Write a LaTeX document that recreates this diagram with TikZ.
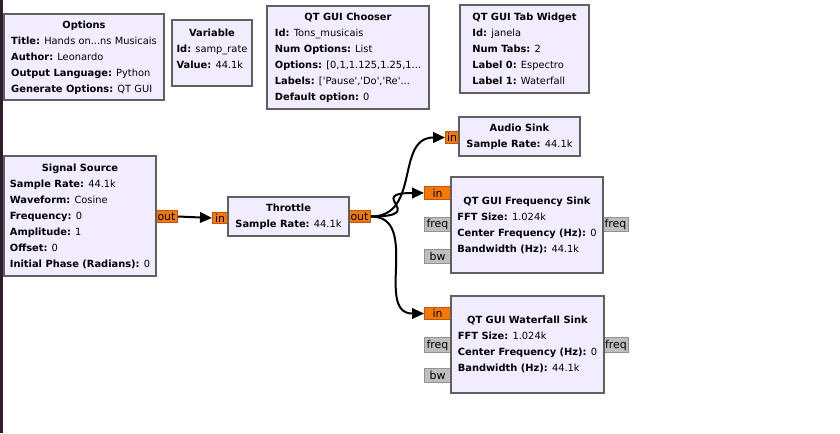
\documentclass[tikz,border=0pt]{standalone}
\usepackage{fontspec}
\setmainfont{DejaVu Sans}
\usetikzlibrary{arrows.meta}

\definecolor{blockfill}{RGB}{241,236,255}
\definecolor{blockline}{RGB}{96,96,96}
\definecolor{portfill}{RGB}{245,121,0}
\definecolor{portline}{RGB}{190,85,30}
\definecolor{gportfill}{RGB}{190,190,190}
\definecolor{gportline}{RGB}{145,145,145}
\definecolor{sidebar}{RGB}{45,30,45}

\tikzset{
  every picture/.style={line width=0.75pt},
  block/.style 2 args={draw=blockline, fill=blockfill, line width=1.5pt, anchor=north west,
    minimum width=#1*0.75pt, minimum height=#2*0.75pt, inner sep=0pt},
  port/.style 2 args={draw=portline, fill=portfill, line width=0.75pt, anchor=north west,
    minimum width=#1*0.75pt, minimum height=#2*0.75pt, inner sep=0pt,
    font=\fontsize{8.2}{10}\selectfont},
  gport/.style 2 args={draw=gportline, fill=gportfill, line width=0.75pt, anchor=north west,
    minimum width=#1*0.75pt, minimum height=#2*0.75pt, inner sep=0pt,
    font=\fontsize{8.2}{10}\selectfont},
  conn/.style={line width=1.5pt, -{Triangle[length=9pt,width=8pt]}},
}

\begin{document}
\begin{tikzpicture}[x=0.75pt,y=0.75pt,yscale=-1,xscale=1,
  every node/.style={font=\fontsize{7.4}{12}\selectfont}]
\useasboundingbox (0,0) rectangle (840,433);
\fill[white] (0,0) rectangle (840,433);
\fill[sidebar] (0,0) rectangle (3,433);

%Ports
\node [port={22}{12}] (src_out) at (155,210) {out};
\node [port={15}{11}] (thr_in) at (212,212) {in};
\node [port={22}{12}] (thr_out) at (348,210) {out};
\node [port={13}{12}] (aud_in) at (445,131) {in};
\node [port={26}{13}] (frq_in) at (424,186) {in};
\node [gport={26}{14}] (frq_freq) at (424,217) {freq};
\node [gport={26}{14}] (frq_bw) at (424,249) {bw};
\node [gport={26}{14}] (frq_fout) at (602,217) {freq};
\node [port={26}{12}] (wtf_in) at (424,307) {in};
\node [gport={26}{15}] (wtf_freq) at (424,337) {freq};
\node [gport={26}{14}] (wtf_bw) at (424,368) {bw};
\node [gport={25}{15}] (wtf_fout) at (603,337) {freq};

%Blocks
\node [block={160}{86}] (options) at (3,13) {\begin{tabular}{@{}l@{}}
  \multicolumn{1}{@{}c@{}}{\textbf{Options}}\\
  \textbf{Title:} Hands on...ns Musicais\\
  \textbf{Author:} Leonardo\\
  \textbf{Output Language:} Python\\
  \textbf{Generate Options:} QT GUI
\end{tabular}};
\node [block={80}{66}] (variable) at (171,19) {\begin{tabular}{@{}l@{}}
  \multicolumn{1}{@{}c@{}}{\textbf{Variable}}\\
  \textbf{Id:} samp\_rate\\
  \textbf{Value:} 44.1k\\[6pt]
\end{tabular}};
\node [block={162}{103}] (chooser) at (266,5) {\begin{tabular}{@{}l@{}}
  \multicolumn{1}{@{}c@{}}{\textbf{QT GUI Chooser}}\\
  \textbf{Id:} Tons\_musicais\\
  \textbf{Num Options:} List\\
  \textbf{Options:} [0,1,1.125,1.25,1...\\
  \textbf{Labels:} [\textquotesingle Pause\textquotesingle,\textquotesingle Do\textquotesingle,\textquotesingle Re\textquotesingle...\\
  \textbf{Default option:} 0
\end{tabular}};
\node [block={129}{88}] (tabs) at (459,4) {\begin{tabular}{@{}l@{}}
  \multicolumn{1}{@{}c@{}}{\textbf{QT GUI Tab Widget}}\\
  \textbf{Id:} janela\\
  \textbf{Num Tabs:} 2\\
  \textbf{Label 0:} Espectro\\
  \textbf{Label 1:} Waterfall
\end{tabular}};
\node [block={152}{120}] (source) at (3,155) {\begin{tabular}{@{}l@{}}
  \multicolumn{1}{@{}c@{}}{\textbf{Signal Source}}\\
  \textbf{Sample Rate:} 44.1k\\
  \textbf{Waveform:} Cosine\\
  \textbf{Frequency:} 0\\
  \textbf{Amplitude:} 1\\
  \textbf{Offset:} 0\\
  \textbf{Initial Phase (Radians):} 0
\end{tabular}};
\node [block={121}{39}] (throttle) at (227,196) {\begin{tabular}{@{}l@{}}
  \multicolumn{1}{@{}c@{}}{\textbf{Throttle}}\\
  \textbf{Sample Rate:} 44.1k
\end{tabular}};
\node [block={121}{39}] (audio) at (458,116) {\begin{tabular}{@{}l@{}}
  \multicolumn{1}{@{}c@{}}{\textbf{Audio Sink}}\\
  \textbf{Sample Rate:} 44.1k
\end{tabular}};
\node [block={152}{96}] (freqsink) at (450,176) {\begin{tabular}{@{}l@{}}
  \multicolumn{1}{@{}c@{}}{\textbf{QT GUI Frequency Sink}}\\
  \textbf{FFT Size:} 1.024k\\
  \textbf{Center Frequency (Hz):} 0\\
  \textbf{Bandwidth (Hz):} 44.1k
\end{tabular}};
\node [block={153}{97}] (wtfsink) at (450,295) {\begin{tabular}{@{}l@{}}
  \multicolumn{1}{@{}c@{}}{\textbf{QT GUI Waterfall Sink}}\\
  \textbf{FFT Size:} 1.024k\\
  \textbf{Center Frequency (Hz):} 0\\
  \textbf{Bandwidth (Hz):} 44.1k
\end{tabular}};

%Connections
\draw [conn] (src_out.east) -- (thr_in.west);
\draw [conn] (thr_out.east) .. controls +(50,0) and +(-50,0) .. (aud_in.west);
\draw [conn] (thr_out.east) .. controls +(60,0) and +(-60,0) .. (frq_in.west);
\draw [conn] (thr_out.east) .. controls +(50,0) and +(-50,0) .. (wtf_in.west);

\end{tikzpicture}
\end{document}
